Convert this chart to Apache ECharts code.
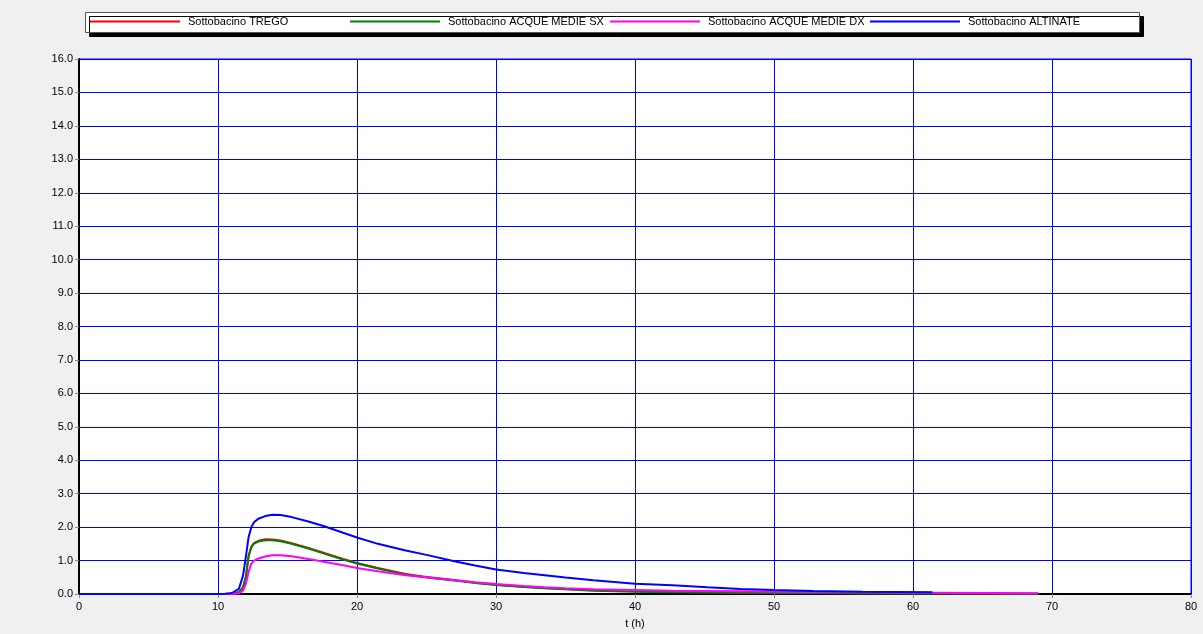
<!DOCTYPE html>
<html>
<head>
<meta charset="utf-8">
<script src="https://cdn.jsdelivr.net/npm/echarts@6/dist/echarts.min.js"></script>
<style>
  html, body { margin: 0; padding: 0; background: #f0f0f0; }
  #chart { width: 1203px; height: 634px; }
</style>
</head>
<body>
<div id="chart"></div>
<script>
// Time axis (hours) shared by all hydrographs
const hours = [0, 10, 10.5, 11, 11.5, 11.8, 12.0, 12.2, 12.4, 12.6, 12.9, 13.4, 13.9, 14.5, 15.3, 16.5, 17.7, 19, 20, 21.5, 23.5, 25, 27, 28.5, 30, 32, 33.5, 35, 37, 40, 42.7, 45.2, 47.6, 50, 52.8, 56.4, 61.4, 65, 69];

// Discharge per sub-basin
const trego = [0, 0, 0, 0.01, 0.05, 0.2, 0.5, 1.15, 1.42, 1.53, 1.59, 1.64, 1.63, 1.60, 1.52, 1.38, 1.22, 1.05, 0.93, 0.78, 0.60, 0.51, 0.42, 0.34, 0.28, 0.22, 0.18, 0.15, 0.11, 0.08, 0.06, 0.05, 0.04, 0.035, 0.03, 0.025, 0.02, 0.015, 0.01];
const acqueMedieSx = [0, 0, 0, 0.01, 0.05, 0.2, 0.5, 1.12, 1.40, 1.51, 1.57, 1.61, 1.61, 1.58, 1.50, 1.36, 1.20, 1.03, 0.91, 0.76, 0.58, 0.49, 0.40, 0.33, 0.27, 0.21, 0.17, 0.14, 0.10, 0.07, 0.055, 0.045, 0.038, 0.032, 0.028, 0.023, 0.018, 0.014, 0.01];
const acqueMedieDx = [0, 0, 0, 0, 0.02, 0.1, 0.3, 0.66, 0.91, 1.0, 1.06, 1.12, 1.16, 1.16, 1.13, 1.05, 0.96, 0.86, 0.78, 0.68, 0.56, 0.50, 0.41, 0.35, 0.30, 0.24, 0.20, 0.17, 0.14, 0.12, 0.10, 0.09, 0.08, 0.07, 0.06, 0.05, 0.04, 0.03, 0.02];
const altinate = [0, 0, 0.01, 0.03, 0.15, 0.55, 1.1, 1.7, 2.0, 2.15, 2.25, 2.33, 2.37, 2.36, 2.30, 2.17, 2.02, 1.83, 1.69, 1.50, 1.30, 1.17, 0.98, 0.85, 0.73, 0.63, 0.56, 0.49, 0.41, 0.31, 0.26, 0.20, 0.15, 0.12, 0.09, 0.07, 0.05, null, null];

const seriesNames = ['Sottobacino TREGO', 'Sottobacino ACQUE MEDIE SX', 'Sottobacino ACQUE MEDIE DX', 'Sottobacino ALTINATE'];
const seriesColors = ['#ff0000', '#008000', '#ff00ff', '#0000ff'];
const seriesValues = [trego, acqueMedieSx, acqueMedieDx, altinate];

const xName = 't (h)';

const FONT = '"Liberation Sans", Arial, sans-serif';

const pairs = vals => hours.map((h, i) => [h, vals[i]]);

const series = seriesNames.map((name, i) => ({
  name: name,
  type: 'line',
  data: pairs(seriesValues[i]),
  symbol: 'none',
  connectNulls: false,
  lineStyle: { color: seriesColors[i], width: 2 },
  itemStyle: { color: seriesColors[i] },
  animation: false
}));

// One legend per entry so the four entries sit on an even pitch
const legendLefts = [90, 350, 610, 870];
const legends = seriesNames.map((name, i) => ({
  data: [name],
  left: legendLefts[i],
  top: 16,
  padding: 0,
  icon: 'rect',
  itemWidth: 90,
  itemHeight: 2,
  itemGap: 0,
  z: 10,
  textStyle: { fontFamily: FONT, fontSize: 11, color: '#000', padding: [0, 0, 0, 3] }
}));

const chart = echarts.init(document.getElementById('chart'), null, { renderer: 'canvas' });
chart.setOption({
  backgroundColor: '#f0f0f0',
  animation: false,
  legend: legends,
  graphic: [{
    type: 'rect',
    z: 1,
    shape: { x: 85.5, y: 12.5, width: 1054, height: 20 },
    style: {
      fill: '#ffffff',
      stroke: '#555555',
      lineWidth: 1,
      shadowColor: '#000000',
      shadowOffsetX: 4,
      shadowOffsetY: 4,
      shadowBlur: 0
    }
  }],
  grid: {
    left: 79, right: 12, top: 59, bottom: 35,
    show: true,
    backgroundColor: '#ffffff',
    borderColor: '#0000ff',
    borderWidth: 1
  },
  xAxis: {
    type: 'value',
    min: 0, max: 80, interval: 10,
    name: xName,
    nameLocation: 'middle',
    nameGap: 24,
    nameTextStyle: { fontFamily: FONT, fontSize: 11, color: '#000' },
    axisLine: { onZero: false, lineStyle: { color: '#000', width: 2 } },
    axisTick: { show: true, length: 4, lineStyle: { color: '#888' } },
    axisLabel: { fontFamily: FONT, fontSize: 11, color: '#000', margin: 7 },
    splitLine: { show: true, lineStyle: { color: '#0000ff', width: 1 } }
  },
  yAxis: {
    type: 'value',
    min: 0, max: 16, interval: 1,
    axisLine: { show: true, onZero: false, lineStyle: { color: '#000', width: 2 } },
    axisTick: { show: true, length: 4, lineStyle: { color: '#888' } },
    axisLabel: {
      fontFamily: FONT, fontSize: 11, color: '#000', margin: 6,
      formatter: v => v.toFixed(1)
    },
    splitLine: { show: true, lineStyle: { color: '#0000ff', width: 1 } }
  },
  series: series
});
</script>
</body>
</html>
